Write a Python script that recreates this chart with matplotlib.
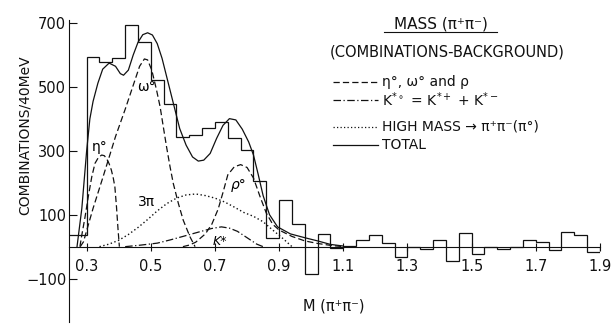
import numpy as np
import matplotlib.pyplot as plt
from matplotlib.lines import Line2D

# pi+ pi- mass spectrum, 40 MeV bins (combinations - background)
BIN_LOW = 0.22
BIN_WIDTH = 0.04
COUNTS = [35, 35, 595, 578, 590, 695, 640, 522, 447, 344,
          351, 372, 389, 341, 302, 206, 27, 146, 72, -85,
          39, -5, 2, 21, 37, 13, -31, 0, -8, 21,
          -45, 42, -24, 0, -8, 0, 21, 15, -12, 46,
          37, -18]

# fitted components
ETA_M = [0.279, 0.284, 0.295, 0.305, 0.316, 0.326, 0.337, 0.347, 0.355, 0.362,
         0.370, 0.377, 0.383, 0.388, 0.393, 0.398, 0.402]
ETA_N = [0, 31, 93, 156, 219, 261, 280, 287, 285, 276, 260, 240, 215, 187, 125, 52, 0]

OMEGA_M = [0.28, 0.29, 0.32, 0.35, 0.37, 0.39, 0.42, 0.445, 0.465, 0.48, 0.49,
           0.503, 0.518, 0.529, 0.539, 0.549, 0.56, 0.57, 0.586, 0.601, 0.622, 0.638]
OMEGA_N = [0, 15, 120, 215, 280, 345, 430, 505, 565, 588, 585,
           553, 490, 438, 375, 313, 250, 198, 135, 83, 31, 0]

RHO_M = [0.60, 0.62, 0.64, 0.67, 0.69, 0.71, 0.725, 0.74, 0.76, 0.78, 0.80,
         0.82, 0.84, 0.86, 0.88, 0.90, 0.94, 0.98, 1.02, 1.06, 1.10]
RHO_N = [0, 5, 14, 40, 70, 118, 170, 225, 250, 257, 248,
         215, 158, 105, 70, 52, 32, 18, 10, 4, 0]

KSTAR_M = [0.42, 0.47, 0.52, 0.56, 0.60, 0.65, 0.69, 0.72, 0.745, 0.77, 0.80, 0.83, 0.85]
KSTAR_N = [0, 5, 11, 21, 32, 46, 57, 62, 58, 48, 28, 8, 0]

HIGH_M = [0.34, 0.37, 0.40, 0.43, 0.46, 0.49, 0.52, 0.55, 0.58, 0.61, 0.64,
          0.67, 0.70, 0.73, 0.76, 0.79, 0.82, 0.85, 0.88, 0.91, 0.94]
HIGH_N = [0, 8, 20, 38, 60, 85, 112, 135, 152, 162, 165,
          160, 152, 140, 124, 107, 95, 78, 52, 27, 0]

TOTAL_M = [0.27, 0.285, 0.30, 0.31, 0.32, 0.335, 0.35, 0.37, 0.39, 0.405, 0.415,
           0.43, 0.445, 0.46, 0.475, 0.49, 0.505, 0.52, 0.535, 0.55, 0.57,
           0.59, 0.61, 0.63, 0.648, 0.665, 0.685, 0.705, 0.725, 0.745, 0.765,
           0.785, 0.805, 0.82, 0.835, 0.85, 0.87, 0.895, 0.935, 0.98, 1.02,
           1.06, 1.10]
TOTAL_N = [0, 120, 300, 400, 455, 512, 556, 575, 565, 542, 537,
           553, 600, 640, 664, 670, 663, 636, 590, 530, 450,
           370, 318, 281, 268, 271, 292, 339, 380, 401, 397,
           368, 328, 287, 225, 160, 100, 62, 40, 28, 18,
           7, 2]

XTICKS = [0.3, 0.5, 0.7, 0.9, 1.1, 1.3, 1.5, 1.7, 1.9]
YTICKS = [-100, 100, 300, 500, 700]

INK = '#111111'
W, H = 614, 324


def fx(px):
    return px / W


def fy(py):
    return 1 - py / H


def main():
    plt.rcParams['font.family'] = 'DejaVu Sans'
    fig = plt.figure(figsize=(W / 100, H / 100), dpi=100)
    ax = fig.add_axes([fx(69), fy(322), fx(600) - fx(69), fy(20) - fy(322)])

    edges = BIN_LOW + BIN_WIDTH * np.arange(len(COUNTS) + 1)
    ax.stairs(COUNTS, edges, color=INK, lw=0.9)

    ax.plot(ETA_M, ETA_N, color=INK, lw=0.9, dashes=(5, 2.5))
    ax.plot(OMEGA_M, OMEGA_N, color=INK, lw=0.9, dashes=(5, 2.5))
    ax.plot(RHO_M, RHO_N, color=INK, lw=0.9, dashes=(5, 2.5))
    ax.plot(KSTAR_M, KSTAR_N, color=INK, lw=0.9, dashes=(6, 2, 1, 2))
    ax.plot(HIGH_M, HIGH_N, color=INK, lw=1.0, dashes=(1, 1.8))
    ax.plot(TOTAL_M, TOTAL_N, color=INK, lw=0.9)

    ax.text(0.342, 312, 'η°', ha='center', va='center', fontsize=10)
    ax.text(0.487, 499, 'ω°', ha='center', va='center', fontsize=10)
    ax.text(0.487, 140, '3π', ha='center', va='center', fontsize=10)
    ax.text(0.775, 193, 'ρ°', ha='center', va='center', fontsize=10, style='italic')
    ax.text(0.716, 17, 'K*', ha='center', va='center', fontsize=9, style='italic')

    ax.set_xlim(0.245, 1.9)
    ax.set_ylim(-236, 710)
    for side in ['top', 'right']:
        ax.spines[side].set_visible(False)
    ax.spines['bottom'].set_position(('data', 0))
    ax.spines['left'].set_color(INK)
    ax.spines['bottom'].set_color(INK)
    ax.patch.set_visible(False)

    ax.set_xticks(XTICKS)
    ax.set_xticklabels([f'{t:.1f}' for t in XTICKS])
    ax.set_yticks(YTICKS)
    ax.tick_params(axis='x', direction='inout', length=6, pad=6, labelsize=10.5, colors=INK)
    ax.tick_params(axis='y', direction='in', length=6, pad=2, labelsize=10.5, colors=INK)

    fig.text(fx(25), fy(135), 'COMBINATIONS/40MeV', rotation=90,
             ha='center', va='center', fontsize=10, color=INK)
    fig.text(fx(303), fy(306), 'M (π⁺π⁻)', ha='left', va='center', fontsize=10.5, color=INK)

    # title block and key
    fig.text(fx(441), fy(24), 'MASS (π⁺π⁻)', ha='center', va='center', fontsize=11, color=INK)
    fig.add_artist(Line2D([fx(384), fx(497)], [fy(31.5), fy(31.5)], color=INK, lw=0.8))
    fig.text(fx(447), fy(52), '(COMBINATIONS-BACKGROUND)', ha='center', va='center',
             fontsize=10.5, color=INK)

    key = [
        (82, dict(dashes=(5, 2.5)), 'η°, ω° and ρ'),
        (100, dict(dashes=(6, 2, 1, 2)), r'K$^{*\circ}$ = K$^{*+}$ + K$^{*-}$'),
        (127, dict(dashes=(1, 1.8)), 'HIGH MASS → π⁺π⁻(π°)'),
        (145, dict(), 'TOTAL'),
    ]
    for py, style, label in key:
        fig.add_artist(Line2D([fx(333), fx(378)], [fy(py), fy(py)], color=INK, lw=0.9, **style))
        fig.text(fx(382), fy(py), label, ha='left', va='center', fontsize=10, color=INK)

    fig.savefig('out.png', dpi=100)


if __name__ == "__main__":
    main()
